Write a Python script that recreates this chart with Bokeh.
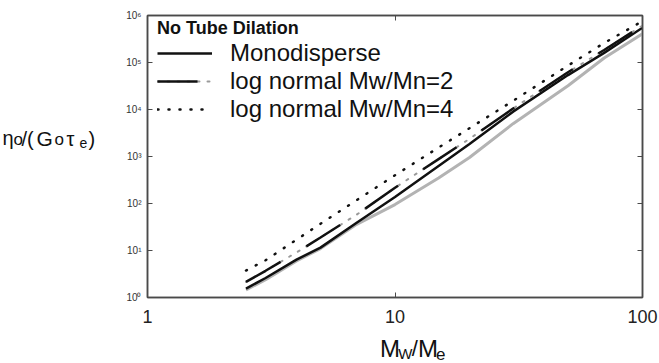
from bokeh.plotting import figure
from bokeh.layouts import row, column
from bokeh.models import (FixedTicker, LogAxis, Legend, LegendItem,
                          CustomJSTickFormatter, ColumnDataSource, Range1d)
from bokeh.core.properties import value
from bokeh.embed import file_html
from bokeh.resources import INLINE

# ---- data ----
mw_me = [2.5, 3, 4, 5, 7, 10, 15, 20, 30, 50, 70, 100]
eta_mono = [1.55, 2.6, 6.4, 11.5, 39, 138, 630, 1850, 9000, 54000, 1.6e5, 5.5e5]
eta_ln2 = [2.15, 3.7, 9.1, 18.9, 58, 216, 880, 2380, 10500, 62000, 1.85e5, 6.1e5]
eta_ln4 = [3.75, 6.2, 17, 37, 118, 400, 1550, 4000, 15300, 86000, 2.6e5, 7.6e5]
eta_gray = [1.45, 2.4, 6.0, 11, 36, 95, 350, 950, 5000, 32000, 1.25e5, 4.1e5]

x_ticks = [1, 10, 100]
y_ticks = [1, 10, 100, 1000, 1e4, 1e5, 1e6]
legend_title = "No Tube Dilation"
labels = ["Monodisperse", "log normal Mw/Mn=2", "log normal Mw/Mn=4"]

FONT = "Liberation Sans"
AX = "#4a4a4a"

src = ColumnDataSource(dict(x=mw_me, mono=eta_mono, ln2=eta_ln2, ln4=eta_ln4, gray=eta_gray))

YLAB_W = 110
MAIN_H = 337

p = figure(width=659 - YLAB_W, height=MAIN_H, x_axis_type="log", y_axis_type="log",
           x_range=(1, 100), y_range=(1, 1e6), title=None,
           min_border_left=37, min_border_right=17, min_border_top=15, min_border_bottom=40,
           toolbar_location=None, output_backend="svg")
p.background_fill_color = "white"
p.border_fill_color = "white"
p.grid.visible = False
p.outline_line_color = AX
p.outline_line_width = 1.5

# axes
xax = p.xaxis[0]
xax.ticker = FixedTicker(ticks=x_ticks)
xax.formatter = CustomJSTickFormatter(code="return String(Math.round(tick));")
xax.major_tick_in = 5
xax.major_tick_out = 0
xax.minor_tick_line_color = None
xax.axis_line_color = AX
xax.axis_line_width = 1.5
xax.major_tick_line_color = AX
xax.major_label_text_font = FONT
xax.major_label_text_font_size = "18px"
xax.major_label_text_color = "#222222"
xax.major_label_standoff = 12

yax = p.yaxis[0]
yax.ticker = FixedTicker(ticks=y_ticks)
yax.formatter = CustomJSTickFormatter(code="""
const sup = {"0":"\u2070","1":"\u00b9","2":"\u00b2","3":"\u00b3","4":"\u2074","5":"\u2075","6":"\u2076","-":"\u207b"};
const e = Math.round(Math.log10(tick));
return "10" + String(e).split("").map(c => sup[c]).join("");
""")
yax.major_tick_in = 5
yax.major_tick_out = 0
yax.minor_tick_line_color = None
yax.axis_line_color = AX
yax.axis_line_width = 1.5
yax.major_tick_line_color = AX
yax.major_label_text_font = FONT
yax.major_label_text_font_size = "10px"
yax.major_label_text_color = "#333333"
yax.major_label_standoff = 6

blank = CustomJSTickFormatter(code="return '';")
rax = LogAxis(ticker=FixedTicker(ticks=y_ticks), formatter=blank, major_tick_in=5, major_tick_out=0,
              minor_tick_line_color=None, axis_line_color=AX, axis_line_width=1.5,
              major_tick_line_color=AX, major_label_text_font_size="0px")
p.add_layout(rax, "right")
tax = LogAxis(ticker=FixedTicker(ticks=x_ticks), formatter=blank, major_tick_in=5, major_tick_out=0,
              minor_tick_line_color=None, axis_line_color=AX, axis_line_width=1.5,
              major_tick_line_color=AX, major_label_text_font_size="0px")
p.add_layout(tax, "above")

# curves
p.line("x", "gray", source=src, line_color="#b3b3b3", line_width=3)
r_mono = p.line("x", "mono", source=src, line_color="#111111", line_width=2.5)
r_ln2_dots = p.line("x", "ln2", source=src, line_color="#9a9a9a", line_width=2,
                    line_dash="2 8", line_cap="round")
r_ln2 = p.line("x", "ln2", source=src, line_color="#111111", line_width=2.5, line_dash="40 30")
r_ln4 = p.line("x", "ln4", source=src, line_color="#111111", line_width=2.5,
               line_dash="1 10", line_cap="round")

legend = Legend(items=[LegendItem(label=labels[0], renderers=[r_mono]),
                       LegendItem(label=labels[1], renderers=[r_ln2_dots, r_ln2]),
                       LegendItem(label=labels[2], renderers=[r_ln4])],
                location=(4, 168), title=legend_title,
                title_text_font=FONT, title_text_font_size="18px", title_text_font_style="bold",
                title_text_color="#111111", title_standoff=0,
                label_text_font=FONT, label_text_font_size="24px", label_text_color="#111111",
                glyph_width=55, glyph_height=20, label_height=20, label_standoff=18,
                spacing=0, padding=6, margin=0,
                border_line_alpha=0, background_fill_alpha=0)
p.add_layout(legend)


def text_panel(width, height, **kw):
    f = figure(width=width, height=height, x_range=Range1d(0, width), y_range=Range1d(0, height),
               title=None, min_border=0, toolbar_location=None, output_backend="svg",
               x_axis_location=None, y_axis_location=None, **kw)
    f.grid.visible = False
    f.outline_line_color = None
    f.background_fill_alpha = 0
    f.border_fill_alpha = 0
    return f


BASE_FIX = 9  # the text glyph sits lower than its alphabetic baseline here


def put(f, text, px, py, size, x0, y0, h):
    # px, py: page pixels of the text's left edge and baseline
    f.text(x=[px - x0], y=[h - (py - BASE_FIX - y0)], text=[text], text_font=value(FONT),
           text_font_size=value(f"{size}px"), text_baseline="alphabetic",
           text_align="left", text_color="#111111")


# y-axis title: eta_o/(G_o tau_e)
ylab = text_panel(YLAB_W, 363)
for t, px, py, sz in [("\u03b7", 2, 146, 20), ("o", 13, 148, 17), ("/(", 21, 147, 20),
                      ("G", 36, 147, 21), ("o", 54, 148, 17), ("\u03c4", 66, 147, 20),
                      ("e", 79, 151, 14), (")", 88, 147, 20)]:
    put(ylab, t, px, py, sz, 0, 0, 363)

# x-axis title: M_W/M_e  (transparent panel overlapping the empty strip under the tick labels)
OVERLAP = 24
XL_TOP = MAIN_H - OVERLAP
XL_H = 363 - XL_TOP
xlab = text_panel(659 - YLAB_W, XL_H, margin=(-OVERLAP, 0, 0, 0))
for t, px, py, sz in [("M", 368, 357, 24), ("W", 388, 362, 15), ("/", 403, 357, 22),
                      ("M", 410, 357, 24), ("e", 430, 362, 17)]:
    put(xlab, t, px, py, sz, YLAB_W, XL_TOP, XL_H)

layout = row(ylab, column(p, xlab, spacing=0), spacing=0)

open("out.html", "w").write(file_html(layout, INLINE))
